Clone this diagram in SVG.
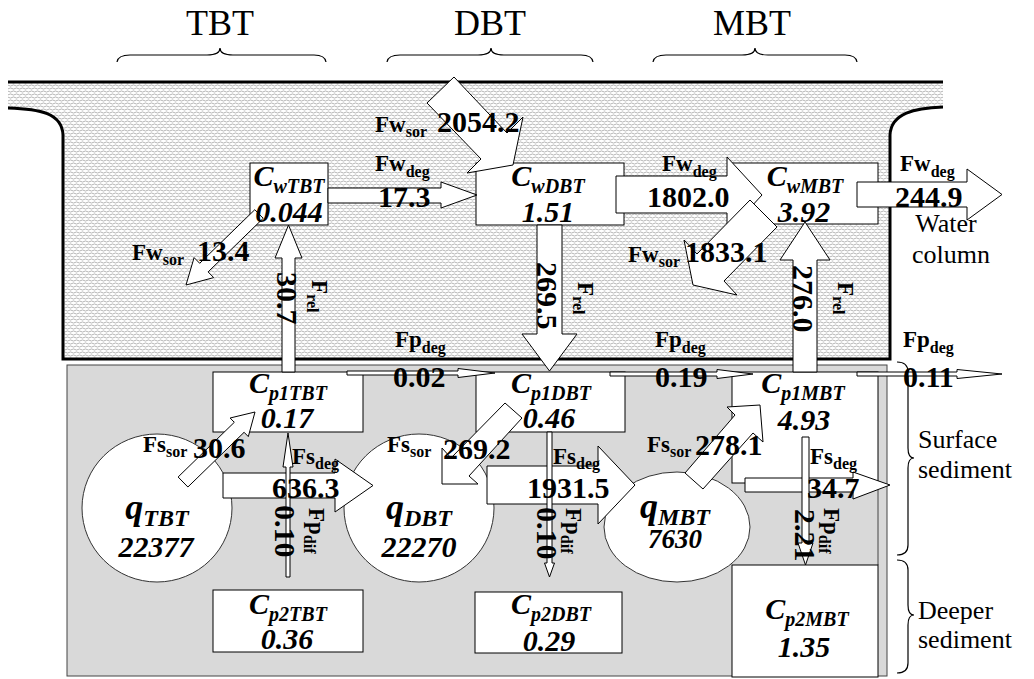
<svg xmlns="http://www.w3.org/2000/svg" width="1034" height="679" viewBox="0 0 1034 679">
<defs>
<pattern id="wv" width="6" height="6" patternUnits="userSpaceOnUse">
<rect width="6" height="6" fill="#fff"/>
<path d="M0,1.5 Q1.5,0.4 3,1.5 T6,1.5 M-3,4.5 Q-1.5,3.4 0,4.5 T3,4.5 T6,4.5 T9,4.5" fill="none" stroke="#959595" stroke-width="0.7"/>
</pattern>
</defs>
<style>
text{font-family:"Liberation Serif","Times New Roman",serif;fill:#000}
.hd{font-size:36px}
.side{font-size:26px}
.lb{font-weight:bold;font-size:23px}
.sb{font-size:16px}
.num{font-weight:bold;font-size:30px}
.c{font-weight:bold;font-style:italic;font-size:30px}
.cs{font-size:20px}
.q{font-weight:bold;font-style:italic;font-size:36px}
.qs{font-size:24px}
.qn{font-weight:bold;font-style:italic;font-size:30px}
.box{fill:#fff;stroke:#000;stroke-width:1}
.arr{fill:#fff;stroke:#000;stroke-width:1}
.thick{fill:none;stroke:#000;stroke-width:3}
.brace{fill:none;stroke:#000;stroke-width:1.2}
.circ{fill:#fff;stroke:#333;stroke-width:1}
</style>

<!-- headers -->
<g id="headers">
<text class="hd" x="220" y="35" text-anchor="middle">TBT</text>
<text class="hd" x="490" y="35" text-anchor="middle">DBT</text>
<text class="hd" x="752" y="35" text-anchor="middle">MBT</text>
<path class="brace" d="M117,62 Q118,55 130,55 L207,55 Q220,55 220,48 Q220,55 233,55 L314,55 Q325,55 326,62"/>
<path class="brace" d="M387,62 Q388,55 400,55 L478,55 Q491,55 491,48 Q491,55 504,55 L581,55 Q592,55 593,62"/>
<path class="brace" d="M653,62 Q654,55 666,55 L742,55 Q755,55 755,48 Q755,55 768,55 L845,55 Q856,55 857,62"/>
</g>

<!-- water column -->
<g id="water">
<path d="M8,82 L943,82 L943,107 C915,108 891,113 890,135 L890,358 L63,358 L63,135 C62,113 40,109 8,108 Z" fill="url(#wv)"/>
<line class="thick" x1="8" y1="82" x2="943" y2="82"/>
<path class="thick" d="M8,108 C40,109 62,113 63,135 L63,359 L890,359 L890,135 C891,113 915,108 943,107"/>
<text class="side" x="946" y="232" text-anchor="middle">Water</text>
<text class="side" x="951" y="263" text-anchor="middle">column</text>
</g>

<!-- sediment -->
<g id="sediment">
<rect x="67" y="365" width="820" height="311" fill="#d9d9d9" stroke="#444" stroke-width="1"/>
<line x1="878" y1="483" x2="878" y2="565" stroke="#444" stroke-width="1"/>
<path class="brace" d="M897,362 Q908,362 908,372 L908,448 Q908,458 914,458 Q908,458 908,468 L908,545 Q908,555 897,555"/>
<path class="brace" d="M897,560 Q908,560 908,570 L908,605 Q908,615 914,615 Q908,615 908,625 L908,663 Q908,673 897,673"/>
<text class="side" x="918" y="448">Surface</text>
<text class="side" x="918" y="478">sediment</text>
<text class="side" x="918" y="619">Deeper</text>
<text class="side" x="918" y="648">sediment</text>
</g>

<!-- nodes: shapes -->
<g id="qTBT"><ellipse class="circ" cx="157" cy="508" rx="75" ry="74"/></g>
<g id="qDBT"><ellipse class="circ" cx="419" cy="508" rx="75" ry="74"/></g>
<g id="qMBT"><ellipse class="circ" cx="677" cy="527" rx="73" ry="55"/></g>
<g id="CwTBT"><rect class="box" x="250" y="163" width="78" height="62"/></g>
<g id="CwDBT"><rect class="box" x="476" y="163" width="148" height="62"/></g>
<g id="CwMBT"><rect class="box" x="730" y="163" width="148" height="61"/></g>
<g id="Cp1TBT"><rect class="box" x="213" y="372" width="150" height="60"/></g>
<g id="Cp1DBT"><rect class="box" x="476" y="372" width="149" height="60"/></g>
<g id="Cp1MBT"><rect class="box" x="732" y="372" width="146" height="111"/></g>
<g id="Cp2TBT"><rect class="box" x="213" y="590" width="150" height="62"/></g>
<g id="Cp2DBT"><rect class="box" x="475" y="592" width="147" height="61"/></g>
<g id="Cp2MBT"><rect class="box" x="732" y="565" width="146" height="112"/></g>

<!-- connectors -->
<g id="connectors">
<polygon class="arr" points="328,188 441,188 441,182 477,195 441,208 441,203 328,203"/>
<polygon class="arr" points="454,77 507,133 523,117 513,165 467,173 481,159 427,103"/>
<polygon class="arr" points="254.8,209.7 199.7,263.3 194.1,257.6 186,285 213.7,277.6 208.1,271.9 263.2,218.3"/>
<polygon class="arr" points="616,176 727,176 727,157 762,195 727,233 727,213 616,213"/>
<polygon class="arr" points="750,200 697,254 684,240 693,285 737,295 724,281 777,227"/>
<polygon class="arr" points="857,182 967,182 967,169 1002,194.5 967,220 967,207 857,207"/>
<polygon class="arr" points="347,371 458,371 458,368.5 495,373 458,377.5 458,375 347,375"/>
<polygon class="arr" points="610,372 717,372 717,369.5 753,374 717,378.5 717,376 610,376"/>
<polygon class="arr" points="857,372 957,372 957,369.5 1002,374 957,378.5 957,376 857,376"/>
<polygon class="arr" points="282,372 282,258 275,258 288.5,225 302,258 295,258 295,372"/>
<polygon class="arr" points="537,225 562,225 562,334 577,334 549.5,371 522,334 537,334"/>
<polygon class="arr" points="793,372 793,260 780,260 805,222 830,260 817,260 817,372"/>
<polygon class="arr" points="178.1,477 234.3,422.3 230.1,418 255,412 248.3,436.6 244.1,432.3 187.9,487"/>
<polygon class="arr" points="505,403 451,458 442,448 442,484 478,484 469,476 522,418"/>
<polygon class="arr" points="685,473 735,415 727,407 760,405 763,442 753,433 703,489"/>
<polygon class="arr" points="223,473 335,473 335,459 373,485.5 335,512 335,498 223,498"/>
<polygon class="arr" points="487,466 598,466 598,446 635,485 598,524 598,504 487,504"/>
<polygon class="arr" points="745,478 853,478 853,472 890,485 853,499 853,492 745,492"/>
<polygon class="arr" points="286,577 286,467 283,467 288,433 293,467 290,467 290,577"/>
<polygon class="arr" points="547,432 552,432 552,563 554.5,563 549.5,577 544.5,563 547,563"/>
<polygon class="arr" points="802,437 809,437 809,543 813,543 805.5,565 798,543 802,543"/>
</g>

<!-- node texts -->
<g id="node-labels">
<text class="c" x="289" y="186" text-anchor="middle">C<tspan class="cs" dy="7">wTBT</tspan></text>
<text class="c" x="289" y="222" text-anchor="middle">0.044</text>
<text class="c" x="548" y="186" text-anchor="middle">C<tspan class="cs" dy="7">wDBT</tspan></text>
<text class="c" x="548" y="222" text-anchor="middle">1.51</text>
<text class="c" x="805" y="186" text-anchor="middle">C<tspan class="cs" dy="7">wMBT</tspan></text>
<text class="c" x="804" y="222" text-anchor="middle">3.92</text>
<text class="c" x="288" y="393" text-anchor="middle">C<tspan class="cs" dy="7">p1TBT</tspan></text>
<text class="c" x="287" y="428" text-anchor="middle">0.17</text>
<text class="c" x="551" y="393" text-anchor="middle">C<tspan class="cs" dy="7">p1DBT</tspan></text>
<text class="c" x="549" y="428" text-anchor="middle">0.46</text>
<text class="c" x="803" y="393" text-anchor="middle">C<tspan class="cs" dy="7">p1MBT</tspan></text>
<text class="c" x="804" y="430" text-anchor="middle">4.93</text>
<text class="c" x="288" y="614" text-anchor="middle">C<tspan class="cs" dy="7">p2TBT</tspan></text>
<text class="c" x="287" y="649" text-anchor="middle">0.36</text>
<text class="c" x="551" y="614" text-anchor="middle">C<tspan class="cs" dy="7">p2DBT</tspan></text>
<text class="c" x="549" y="651" text-anchor="middle">0.29</text>
<text class="c" x="807" y="619" text-anchor="middle">C<tspan class="cs" dy="7">p2MBT</tspan></text>
<text class="c" x="804" y="657" text-anchor="middle">1.35</text>
<text class="q" x="157" y="519" text-anchor="middle">q<tspan class="qs" dy="7">TBT</tspan></text>
<text class="qn" x="156" y="557" text-anchor="middle">22377</text>
<text class="q" x="419" y="519" text-anchor="middle">q<tspan class="qs" dy="7">DBT</tspan></text>
<text class="qn" x="419" y="557" text-anchor="middle">22270</text>
<text class="q" x="675" y="518" text-anchor="middle">q<tspan class="qs" dy="7">MBT</tspan></text>
<text class="qn" x="675" y="548" text-anchor="middle" style="font-size:27px">7630</text>
</g>

<!-- connector labels -->
<g id="connector-labels">
<text class="lb" x="375" y="132">Fw<tspan class="sb" dy="5">sor</tspan></text>
<text class="num" x="437" y="132">2054.2</text>
<text class="lb" x="375" y="171">Fw<tspan class="sb" dy="6">deg</tspan></text>
<text class="num" x="378" y="207">17.3</text>
<text class="lb" x="132" y="260">Fw<tspan class="sb" dy="5">sor</tspan></text>
<text class="num" x="197" y="261">13.4</text>
<text class="lb" x="662" y="171">Fw<tspan class="sb" dy="6">deg</tspan></text>
<text class="num" x="647" y="207">1802.0</text>
<text class="lb" x="628" y="262">Fw<tspan class="sb" dy="5">sor</tspan></text>
<text class="num" x="685" y="262">1833.1</text>
<text class="lb" x="900" y="171">Fw<tspan class="sb" dy="6">deg</tspan></text>
<text class="num" x="895" y="207">244.9</text>
<text class="lb" x="395" y="347">Fp<tspan class="sb" dy="6">deg</tspan></text>
<text class="num" x="393" y="387">0.02</text>
<text class="lb" x="655" y="347">Fp<tspan class="sb" dy="6">deg</tspan></text>
<text class="num" x="655" y="387">0.19</text>
<text class="lb" x="903" y="347">Fp<tspan class="sb" dy="6">deg</tspan></text>
<text class="num" x="903" y="387">0.11</text>
<text class="lb" x="143" y="452">Fs<tspan class="sb" dy="5">sor</tspan></text>
<text class="num" x="193" y="458">30.6</text>
<text class="lb" x="387" y="452">Fs<tspan class="sb" dy="5">sor</tspan></text>
<text class="num" x="443" y="459">269.2</text>
<text class="lb" x="647" y="452">Fs<tspan class="sb" dy="5">sor</tspan></text>
<text class="num" x="695" y="455">278.1</text>
<text class="lb" x="292" y="464">Fs<tspan class="sb" dy="5">deg</tspan></text>
<text class="num" x="272" y="498">636.3</text>
<text class="lb" x="553" y="464">Fs<tspan class="sb" dy="5">deg</tspan></text>
<text class="num" x="527" y="498">1931.5</text>
<text class="lb" x="810" y="464">Fs<tspan class="sb" dy="5">deg</tspan></text>
<text class="num" x="807" y="498">34.7</text>
<text class="num" transform="translate(277,272) rotate(90)">30.7</text>
<text class="lb" transform="translate(312,280) rotate(90)">F<tspan class="sb" dy="5">rel</tspan></text>
<text class="num" transform="translate(537,262) rotate(90)">269.5</text>
<text class="lb" transform="translate(578,282) rotate(90)">F<tspan class="sb" dy="5">rel</tspan></text>
<text class="num" transform="translate(793,265) rotate(90)">276.0</text>
<text class="lb" transform="translate(838,282) rotate(90)">F<tspan class="sb" dy="5">rel</tspan></text>
<text class="num" transform="translate(275,505) rotate(90)">0.10</text>
<text class="lb" transform="translate(309,508) rotate(90)">Fp<tspan class="sb" dy="5">dif</tspan></text>
<text class="num" transform="translate(537,507) rotate(90)">0.10</text>
<text class="lb" transform="translate(566,508) rotate(90)">Fp<tspan class="sb" dy="5">dif</tspan></text>
<text class="num" transform="translate(795,509) rotate(90)">2.21</text>
<text class="lb" transform="translate(824,508) rotate(90)">Fp<tspan class="sb" dy="5">dif</tspan></text>
</g>
</svg>
